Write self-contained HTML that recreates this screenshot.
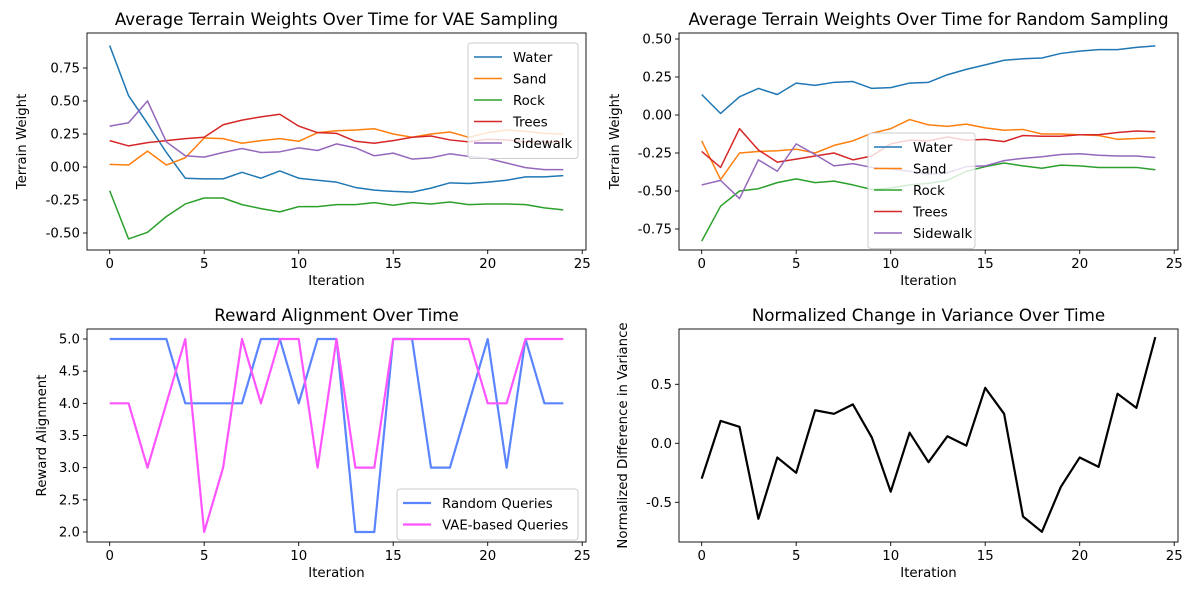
<!DOCTYPE html>
<html><head><meta charset="utf-8"><style>
body{margin:0;background:#fff;}
svg{display:block;font-family:"DejaVu Sans","Liberation Sans",sans-serif;}
</style></head><body>
<svg id="fig" width="1200" height="600" xmlns="http://www.w3.org/2000/svg"></svg>
<script>
const iterations = Array.from({length:25},(_,i)=>i);
const vaeWater = [0.92,0.54,0.33,0.11,-0.085,-0.09,-0.09,-0.04,-0.085,-0.03,-0.085,-0.10,-0.115,-0.155,-0.175,-0.185,-0.19,-0.16,-0.12,-0.125,-0.115,-0.10,-0.075,-0.075,-0.065];
const vaeSand = [0.02,0.015,0.12,0.015,0.07,0.22,0.215,0.18,0.20,0.215,0.195,0.26,0.275,0.28,0.29,0.25,0.225,0.25,0.265,0.225,0.26,0.28,0.27,0.255,0.25];
const vaeRock = [-0.18,-0.545,-0.495,-0.375,-0.28,-0.235,-0.235,-0.285,-0.315,-0.34,-0.30,-0.30,-0.285,-0.285,-0.27,-0.29,-0.27,-0.28,-0.265,-0.285,-0.28,-0.28,-0.285,-0.31,-0.325];
const vaeTrees = [0.20,0.16,0.185,0.20,0.215,0.225,0.32,0.355,0.38,0.40,0.31,0.26,0.255,0.195,0.18,0.20,0.225,0.235,0.205,0.19,0.21,0.205,0.19,0.19,0.19];
const vaeSidewalk = [0.31,0.335,0.50,0.19,0.085,0.075,0.11,0.14,0.11,0.115,0.145,0.125,0.175,0.145,0.085,0.105,0.06,0.07,0.10,0.08,0.065,0.03,-0.005,-0.02,-0.02];
const rndWater = [0.135,0.01,0.12,0.175,0.135,0.21,0.195,0.215,0.22,0.175,0.18,0.21,0.215,0.265,0.30,0.33,0.36,0.37,0.375,0.405,0.42,0.43,0.43,0.445,0.455];
const rndSand = [-0.17,-0.425,-0.25,-0.24,-0.235,-0.225,-0.25,-0.20,-0.17,-0.12,-0.09,-0.03,-0.065,-0.075,-0.06,-0.085,-0.10,-0.095,-0.125,-0.125,-0.13,-0.135,-0.16,-0.155,-0.15];
const rndRock = [-0.83,-0.60,-0.50,-0.485,-0.445,-0.42,-0.445,-0.435,-0.46,-0.49,-0.48,-0.46,-0.45,-0.43,-0.37,-0.34,-0.316,-0.335,-0.35,-0.33,-0.335,-0.345,-0.345,-0.345,-0.36];
const rndTrees = [-0.24,-0.345,-0.09,-0.23,-0.31,-0.29,-0.27,-0.25,-0.295,-0.27,-0.19,-0.165,-0.17,-0.145,-0.165,-0.16,-0.175,-0.135,-0.14,-0.14,-0.13,-0.13,-0.115,-0.105,-0.11];
const rndSidewalk = [-0.46,-0.43,-0.55,-0.295,-0.37,-0.19,-0.26,-0.335,-0.32,-0.345,-0.355,-0.37,-0.39,-0.38,-0.34,-0.335,-0.30,-0.285,-0.275,-0.26,-0.255,-0.265,-0.27,-0.27,-0.28];
const rewardRandom = [5,5,5,5,4,4,4,4,5,5,4,5,5,2,2,5,5,3,3,4,5,3,5,4,4];
const rewardVAE = [4,4,3,4,5,2,3,5,4,5,5,3,5,3,3,5,5,5,5,5,4,4,5,5,5];
const varianceDiff = [-0.30,0.19,0.14,-0.64,-0.12,-0.25,0.28,0.25,0.33,0.05,-0.41,0.09,-0.16,0.06,-0.02,0.47,0.25,-0.62,-0.75,-0.37,-0.12,-0.20,0.42,0.30,0.90];
const xTicks = [0,5,10,15,20,25];
const terrainNames = ["Water","Sand","Rock","Trees","Sidewalk"];
const tlTicks = [0.75,0.50,0.25,0.00,-0.25,-0.50];
const trTicks = [0.50,0.25,0.00,-0.25,-0.50,-0.75];
const blTicks = [5.0,4.5,4.0,3.5,3.0,2.5,2.0];
const brTicks = [0.5,0.0,-0.5];

const NS="http://www.w3.org/2000/svg";
const svg=document.getElementById('fig');
function mk(tag,attrs,parent){const e=document.createElementNS(NS,tag);for(const k in attrs)e.setAttribute(k,attrs[k]);(parent||svg).appendChild(e);return e;}
const colors=["#1f77b4","#ff7f0e","#2ca02c","#d62728","#9467bd"];

function panel(cfg){
  const g=mk('g',{});
  
  
  const L=cfg.left,R=cfg.right,T=cfg.top,B=cfg.bottom;
  const x0=L+1.2*(R-L)/26.4, ux=(R-L)/26.4;
  const sx=v=>x0+v*ux;
  const sy=v=>cfg.y0px+(cfg.y0-v)*cfg.uy;
  const t=mk('text',{x:(L+R)/2,y:T-8,'text-anchor':'middle','font-size':16.7,fill:'#000'},g);
  t.textContent=cfg.title;
  
  
  cfg.series.forEach((s,si)=>{
    const p=mk('polyline',{points:s.data.map((v,i)=>sx(iterations[i])+','+sy(v)).join(' '),fill:'none',stroke:s.color,'stroke-width':s.w||1.5,'stroke-linejoin':'round'},g);
    
    
  });
  mk('rect',{x:L,y:T,width:R-L,height:B-T,fill:'none',stroke:'#000','stroke-width':0.9},g);
  xTicks.forEach(v=>{
    mk('line',{x1:sx(v),x2:sx(v),y1:B,y2:B+4,stroke:'#000','stroke-width':0.9},g);
    const tx=mk('text',{x:sx(v),y:B+18,'text-anchor':'middle','font-size':13.3,fill:'#000'},g);
    tx.textContent=v;
    
    
  });
  cfg.yticks.forEach(v=>{
    mk('line',{x1:L-4,x2:L,y1:sy(v),y2:sy(v),stroke:'#000','stroke-width':0.9},g);
    const ty=mk('text',{x:L-7,y:sy(v)+4.5,'text-anchor':'end','font-size':13.3,fill:'#000'},g);
    ty.textContent=v.toFixed(cfg.dec);
    
    
  });
  const xl=mk('text',{x:(L+R)/2,y:B+35,'text-anchor':'middle','font-size':13.3,fill:'#000'},g);
  xl.textContent='Iteration';
  
  
  const yl=mk('text',{x:0,y:0,'text-anchor':'middle','font-size':13.3,fill:'#000',transform:`translate(${cfg.ylx},${(T+B)/2}) rotate(-90)`},g);
  yl.textContent=cfg.ylabel;
  
  
  if(cfg.legend){
    const lg=cfg.legend;
    const lgg=mk('g',{},g);
    
    
    mk('rect',{x:lg.x,y:lg.y,width:lg.w,height:cfg.series.length*21.5+8,rx:3,fill:'#fff','fill-opacity':0.8,stroke:'#ccc'},lgg);
    cfg.series.forEach((s,i)=>{
      const yy=lg.y+14+i*21.5;
      mk('line',{x1:lg.x+6,x2:lg.x+34,y1:yy,y2:yy,stroke:s.color,'stroke-width':s.w||1.5},lgg);
      const lt=mk('text',{x:lg.x+45,y:yy+5,'font-size':13.3,fill:'#000'},lgg);
      lt.textContent=s.label;
      
      
    });
  }
}
const mkSeries=(arrs)=>arrs.map((d,i)=>({data:d,color:colors[i],label:terrainNames[i]}));
panel({name:'vae-terrain-chart',title:'Average Terrain Weights Over Time for VAE Sampling',left:87,right:586,top:33,bottom:250,y0:0,y0px:167,uy:132,yticks:tlTicks,dec:2,ylabel:'Terrain Weight',ylx:26,
  series:mkSeries([vaeWater,vaeSand,vaeRock,vaeTrees,vaeSidewalk]),legend:{x:468,y:43,w:110}});
panel({name:'random-terrain-chart',title:'Average Terrain Weights Over Time for Random Sampling',left:679,right:1178,top:33,bottom:250,y0:0,y0px:115,uy:152,yticks:trTicks,dec:2,ylabel:'Terrain Weight',ylx:619,
  series:mkSeries([rndWater,rndSand,rndRock,rndTrees,rndSidewalk]),legend:{x:868,y:133,w:107}});
panel({name:'reward-alignment-chart',title:'Reward Alignment Over Time',left:87,right:586,top:329,bottom:542,y0:5,y0px:339,uy:64.33,yticks:blTicks,dec:1,ylabel:'Reward Alignment',ylx:46,
  series:[{data:rewardRandom,color:'#5b84ff',label:'Random Queries',w:2.2},{data:rewardVAE,color:'#ff55ff',label:'VAE-based Queries',w:2.2}],legend:{x:397,y:489,w:181}});
panel({name:'variance-chart',title:'Normalized Change in Variance Over Time',left:679,right:1178,top:329,bottom:542,y0:0,y0px:443.3,uy:118,yticks:brTicks,dec:1,ylabel:'Normalized Difference in Variance',ylx:627,
  series:[{data:varianceDiff,color:'#000',label:'Variance',w:2.2}]});
</script>
</body></html>
